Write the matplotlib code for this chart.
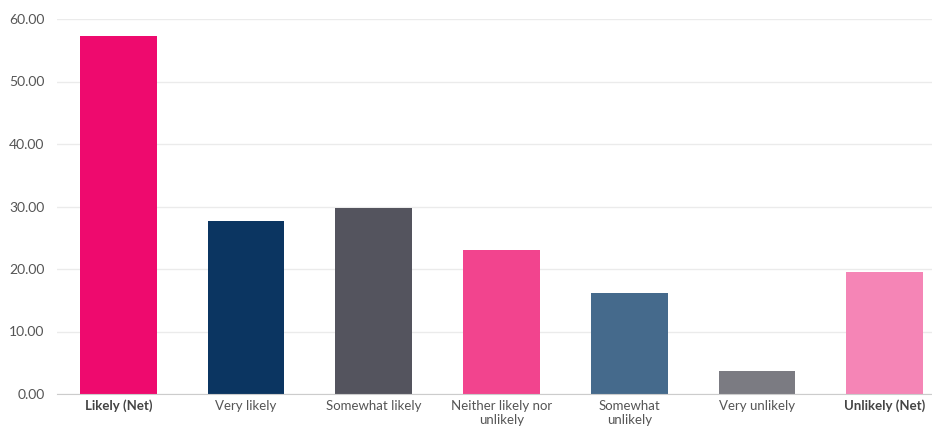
import matplotlib
matplotlib.use("Agg")
import matplotlib.pyplot as plt

categories = ["Likely (Net)", "Very likely", "Somewhat likely",
              "Neither likely nor\nunlikely", "Somewhat\nunlikely",
              "Very unlikely", "Unlikely (Net)"]
values = [57.3, 27.7, 29.7, 23.1, 16.2, 3.7, 19.5]
colors = ["#EE0A6E", "#0B3561", "#54545E", "#F2448E", "#456A8C", "#7B7B82", "#F585B6"]
bold_labels = ["Likely (Net)", "Unlikely (Net)"]
yticks = [0, 10, 20, 30, 40, 50, 60]

plt.rcParams['font.family'] = ['Lato', 'DejaVu Sans']

fig = plt.figure(figsize=(9.32, 4.29), dpi=100)
ax = fig.add_axes([57 / 932, 35 / 429, 875 / 932, 375 / 429])

x = list(range(len(categories)))
ax.bar(x, values, width=0.6, color=colors, zorder=3)

ax.set_ylim(0, 60)
ax.set_xlim(-0.48, 6.37)
ax.set_yticks(yticks)
ax.set_yticklabels([f"{v:.2f}" for v in yticks], fontsize=10, color="#555555")
ax.set_xticks(x)
ax.set_xticklabels(categories, fontsize=9.5, color="#555555", linespacing=1.25)
for lbl in ax.get_xticklabels():
    if lbl.get_text() in bold_labels:
        lbl.set_fontweight("bold")
        lbl.set_color("#444444")

ax.grid(axis="y", color="#ebebeb", linewidth=1, zorder=0)
ax.tick_params(axis="both", length=0, pad=4)
ax.tick_params(axis="y", pad=9)
for side in ["top", "right", "left"]:
    ax.spines[side].set_visible(False)
ax.spines["bottom"].set_color("#cccccc")
ax.spines["bottom"].set_zorder(4)

fig.savefig("out.png", dpi=100)
